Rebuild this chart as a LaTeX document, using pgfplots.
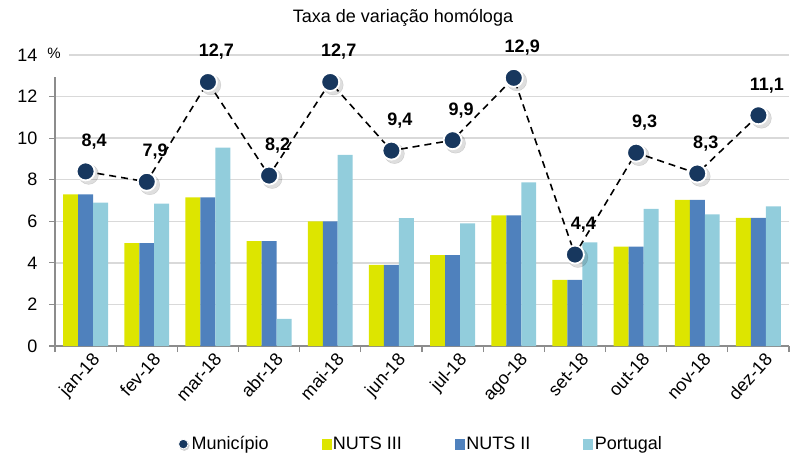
\documentclass[border=0pt]{standalone}
\usepackage{fontspec}
\setmainfont{Liberation Sans}
\usepackage{pgfplots}
\pgfplotsset{compat=1.18}
\definecolor{nuts3}{HTML}{DDE500}
\definecolor{nuts2}{HTML}{4F81BD}
\definecolor{port}{HTML}{92CDDC}
\definecolor{mun}{HTML}{17375E}
\definecolor{axgray}{HTML}{8C8C8C}
\definecolor{gridgray}{HTML}{D9D9D9}
\definecolor{shadow}{HTML}{D0D0D0}
\begin{document}
\begin{tikzpicture}[x=1pt,y=1pt]
\useasboundingbox (0,0) rectangle (799,459);
\node[font=\fontsize{18}{20}\selectfont] at (403,441) {Taxa de variação homóloga};
\begin{axis}[
  at={(55pt,113pt)}, anchor=south west,
  scale only axis, width=734pt, height=291pt,
  xmin=-0.5, xmax=11.5, ymin=0, ymax=14,
  axis lines*=left,
  axis line style={draw=axgray, line width=1.5pt},
  tick style={draw=axgray, line width=1.2pt},
  tick align=outside,
  major tick length=6pt,
  ytick={0,2,...,14},
  xtick={-0.5,0.5,...,11.5},
  xticklabels={},
  extra x ticks={0,1,...,11},
  extra x tick labels={jan-18,fev-18,mar-18,abr-18,mai-18,jun-18,jul-18,ago-18,set-18,out-18,nov-18,dez-18},
  extra x tick style={major tick length=0pt, grid=none},
  xticklabel style={rotate=48, anchor=north east, font=\fontsize{18}{20}\selectfont, yshift=-4pt, xshift=3pt},
  yticklabel style={font=\fontsize{18}{20}\selectfont, xshift=-8pt},
  /pgf/number format/assume math mode=true,
  ymajorgrids, grid style={draw=gridgray, line width=1.3pt},
  ybar, bar width=0.245,
  legend columns=4,
  legend style={at={(0.4986,-0.337)}, anchor=center, draw=none, fill=none,
    font=\fontsize{18}{20}\selectfont,
    /tikz/every even column/.append style={column sep=51pt}},
  legend cell align=left,
]
\addlegendimage{legend image code/.code={
  \fill[shadow] (6pt,-1.5pt) circle (5pt);
  \fill[mun, draw=white, line width=0.8pt] (5pt,0pt) circle (4.8pt);}}
\addlegendentry{Município}
\addlegendimage{legend image code/.code={\fill[nuts3] (0pt,-5pt) rectangle (9pt,4.5pt);}}
\addlegendentry{NUTS III}
\addlegendimage{legend image code/.code={\fill[nuts2] (0pt,-5pt) rectangle (9pt,4.5pt);}}
\addlegendentry{NUTS II}
\addlegendimage{legend image code/.code={\fill[port] (0pt,-5pt) rectangle (9pt,4.5pt);}}
\addlegendentry{Portugal}

\addplot[forget plot, fill=nuts3, draw=none, bar shift=-0.245] coordinates {
(0,7.3) (1,4.95) (2,7.15) (3,5.05) (4,6.0) (5,3.9) (6,4.37) (7,6.28) (8,3.18) (9,4.78) (10,7.03) (11,6.16)};
\addplot[forget plot, fill=nuts2, draw=none, bar shift=0] coordinates {
(0,7.3) (1,4.95) (2,7.15) (3,5.05) (4,6.0) (5,3.9) (6,4.37) (7,6.28) (8,3.18) (9,4.78) (10,7.03) (11,6.16)};
\addplot[forget plot, fill=port, draw=none, bar shift=0.245] coordinates {
(0,6.9) (1,6.85) (2,9.55) (3,1.3) (4,9.2) (5,6.15) (6,5.9) (7,7.87) (8,4.98) (9,6.6) (10,6.33) (11,6.72)};

% soft shadow of markers
\addplot[forget plot, only marks, mark=*, mark size=10pt,
  mark options={fill=black, draw=none, opacity=0.13, xshift=3pt, yshift=-3pt}] coordinates {
(0,8.4) (1,7.9) (2,12.7) (3,8.2) (4,12.7) (5,9.4) (6,9.9) (7,12.9) (8,4.4) (9,9.3) (10,8.3) (11,11.1)};
\addplot[forget plot, sharp plot, draw=black, line width=1.6pt, dash pattern=on 7pt off 5pt,
  mark=*, mark size=9pt, mark options={solid, fill=mun, draw=white, line width=1.8pt},
  nodes near coords, point meta=explicit symbolic,
  nodes near coords style={font=\bfseries\fontsize{18}{20}\selectfont, anchor=center, yshift=30pt, text=black}] coordinates {
(0,8.4) [8,4] (1,7.9) [7,9] (2,12.7) [12,7] (3,8.2) [8,2] (4,12.7) [12,7] (5,9.4) [9,4] (6,9.9) [9,9] (7,12.9) [12,9] (8,4.4) [4,4] (9,9.3) [9,3] (10,8.3) [8,3] (11,11.1) [11,1]};
\end{axis}
\fill[white] (46,382) rectangle (69,418);
\node[font=\fontsize{15}{17}\selectfont] at (54,406) {\%};
\end{tikzpicture}
\end{document}
